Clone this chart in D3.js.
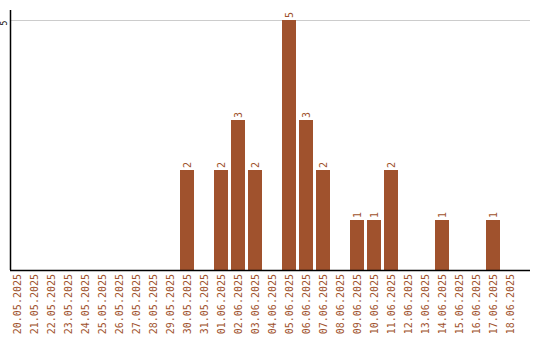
<!DOCTYPE html>
<html lang="en">
<head>
    <meta charset="UTF-8">
    <title>Daily count</title>
    <script src="https://d3js.org/d3.v7.js"></script>
    <style>
        body { margin: 0; background: #fff; }
        text { font-family: "DejaVu Sans Mono", monospace; font-size: 10px; }
    </style>
</head>
<body>
<svg></svg>
<script>
    let dates = ["20.05.2025", "21.05.2025", "22.05.2025", "23.05.2025", "24.05.2025",
        "25.05.2025", "26.05.2025", "27.05.2025", "28.05.2025", "29.05.2025",
        "30.05.2025", "31.05.2025", "01.06.2025", "02.06.2025", "03.06.2025",
        "04.06.2025", "05.06.2025", "06.06.2025", "07.06.2025", "08.06.2025",
        "09.06.2025", "10.06.2025", "11.06.2025", "12.06.2025", "13.06.2025",
        "14.06.2025", "15.06.2025", "16.06.2025", "17.06.2025", "18.06.2025"];
    let counts = [0, 0, 0, 0, 0, 0, 0, 0, 0, 0,
        2, 0, 2, 3, 2, 0, 5, 3, 2, 0,
        1, 1, 2, 0, 0, 1, 0, 0, 1, 0];
    let yTicks = [5];

    {
        let width = 540;
        let height = 340;
        let left = 10, right = 530, plotTop = 10, bottom = 270;
        let barColor = "#a0522d";

        let svg = d3.select("svg")
            .attr("width", width)
            .attr("height", height);

        // step of 17px, bars 14px wide
        let x = d3.scaleBand()
            .domain(dates)
            .range([left, left + 17 * dates.length - 3])
            .paddingInner(3 / 17)
            .paddingOuter(0);

        let y = d3.scaleLinear()
            .domain([0, 5])
            .range([bottom, 20]);

        // grid lines
        svg.selectAll(".grid").data(yTicks)
            .enter().append("line")
            .attr("x1", left).attr("x2", right)
            .attr("y1", d => Math.round(y(d)) + 0.5)
            .attr("y2", d => Math.round(y(d)) + 0.5)
            .attr("stroke", "#cccccc");

        // y tick labels (small, tucked left of the axis)
        svg.selectAll(".ylab").data(yTicks)
            .enter().append("text")
            .attr("transform", d => "translate(7," + (y(d) + 3) + ") rotate(-90)")
            .attr("text-anchor", "middle")
            .attr("fill", "#000")
            .style("font-size", "8px")
            .text(d => d);

        let data = dates.map((d, i) => ({date: d, value: counts[i]}));

        svg.selectAll(".bar").data(data)
            .enter().append("rect")
            .attr("x", d => x(d.date))
            .attr("width", x.bandwidth())
            .attr("y", d => y(d.value))
            .attr("height", d => y(0) - y(d.value))
            .attr("fill", barColor);

        // value labels
        svg.selectAll(".val").data(data.filter(d => d.value > 0))
            .enter().append("text")
            .attr("transform", d => "translate(" + (x(d.date) + x.bandwidth() / 2 + 4) + "," + (y(d.value) - 2) + ") rotate(-90)")
            .attr("text-anchor", "start")
            .attr("fill", barColor)
            .text(d => d.value);

        // axes lines
        svg.append("line")
            .attr("x1", left + 0.5).attr("x2", left + 0.5)
            .attr("y1", plotTop).attr("y2", bottom)
            .attr("stroke", "#000").attr("stroke-width", 1.5);
        svg.append("line")
            .attr("x1", left).attr("x2", right)
            .attr("y1", bottom + 0.5).attr("y2", bottom + 0.5)
            .attr("stroke", "#000").attr("stroke-width", 1.5);

        // date labels
        svg.selectAll(".xlab").data(dates)
            .enter().append("text")
            .attr("transform", d => "translate(" + (x(d) + x.bandwidth() / 2 + 4) + "," + (bottom + 4) + ") rotate(-90)")
            .attr("text-anchor", "end")
            .attr("fill", barColor)
            .text(d => d);
    }
</script>
</body>
</html>
